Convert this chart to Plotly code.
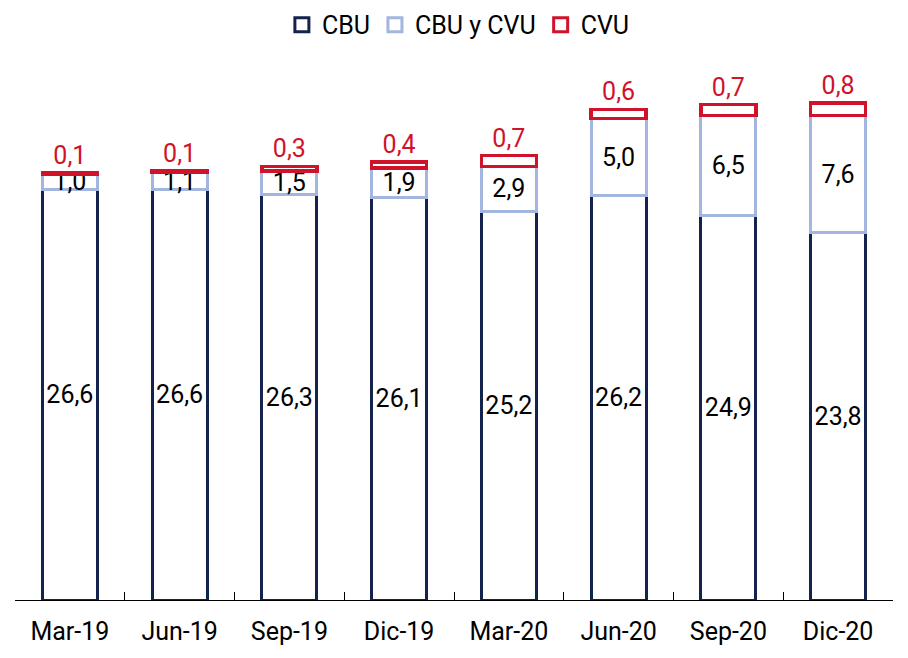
import plotly.graph_objects as go

categories = ["Mar-19", "Jun-19", "Sep-19", "Dic-19", "Mar-20", "Jun-20", "Sep-20", "Dic-20"]
cbu = [26.6, 26.6, 26.3, 26.1, 25.2, 26.2, 24.9, 23.8]
cbu_cvu = [1.0, 1.1, 1.5, 1.9, 2.9, 5.0, 6.5, 7.6]
cvu = [0.1, 0.1, 0.3, 0.4, 0.7, 0.6, 0.7, 0.8]
series_names = ["CBU", "CBU y CVU", "CVU"]

def fmt(v):
    return f"{v:.1f}".replace(".", ",")

NAVY = "#13234d"
LIGHT = "#a3b6e0"
RED = "#d0132b"
FONT = "Roboto"
FS = 25

fig = go.Figure()
fig.add_trace(go.Bar(
    name=series_names[0], x=categories, y=cbu, text=[fmt(v) for v in cbu],
    textposition="inside", insidetextanchor="middle",
    textfont=dict(color="black", size=FS, family=FONT),
    marker=dict(color="white", line=dict(color=NAVY, width=3)),
    showlegend=False,
))
fig.add_trace(go.Bar(
    name=series_names[1], x=categories, y=cbu_cvu, text=[fmt(v) for v in cbu_cvu],
    textposition="inside", insidetextanchor="middle",
    textfont=dict(color="black", size=FS, family=FONT),
    marker=dict(color="white", line=dict(color=LIGHT, width=3)),
    showlegend=False,
))
fig.add_trace(go.Bar(
    name=series_names[2], x=categories, y=cvu, text=[fmt(v) for v in cvu],
    textposition="outside",
    textfont=dict(color=RED, size=FS, family=FONT),
    marker=dict(color="white", line=dict(color=RED, width=3.5)),
    cliponaxis=False, showlegend=False,
))

# legend entries (open squares, as in the reference)
for nm, col in zip(series_names, [NAVY, LIGHT, RED]):
    fig.add_trace(go.Scatter(
        x=[None], y=[None], mode="markers", name=nm,
        marker=dict(symbol="square-open", size=14, color=col, line=dict(width=3, color=col)),
    ))

fig.update_layout(
    barmode="stack",
    bargap=0.5,
    width=900, height=650,
    margin=dict(l=7, r=15, t=52, b=58, autoexpand=False),
    plot_bgcolor="white", paper_bgcolor="white",
    font=dict(family=FONT, size=FS, color="black"),
    uniformtext=dict(minsize=FS, mode="show"),
    showlegend=True,
    legend=dict(orientation="h", x=0.505, xanchor="center", y=1.065, yanchor="middle",
                font=dict(size=FS, family=FONT, color="black"),
                itemwidth=30, traceorder="normal", itemsizing="trace"),
)
fig.update_xaxes(
    type="category", showline=True, linecolor="black", linewidth=1,
    ticks="inside", tickson="boundaries", ticklen=8, tickcolor="black",
    showgrid=False, tickfont=dict(size=FS, family=FONT, color="black"),
    ticklabelstandoff=9,
)
fig.update_yaxes(range=[0, 35], visible=False, showgrid=False)

fig.write_html("out.html")
